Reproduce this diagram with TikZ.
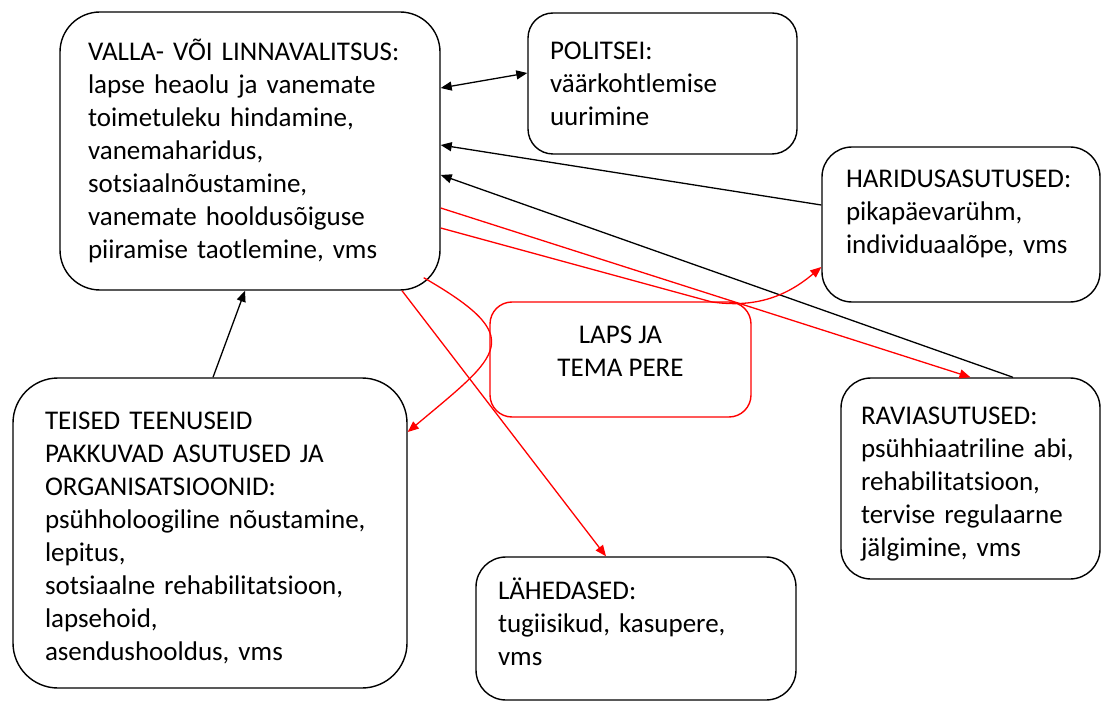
\documentclass[tikz,border=0pt]{standalone}
\usepackage{fontspec}
\setmainfont{Carlito}
\usetikzlibrary{arrows.meta}
\begin{document}
\begin{tikzpicture}[x=1pt,y=1pt]
    \tikzset{org box/.style={draw,line width=1.4pt,rounded corners=30pt,align=left,inner xsep=22pt,font=\fontsize{27}{33}\selectfont},
      link/.style={line width=1.3pt,-{Triangle[length=11pt,width=9pt]}},
      red link/.style={link,red}}

    \useasboundingbox (0,0) rectangle (1105,-703);

    \node [org box, rounded corners=40pt, inner xsep=28pt, text width=324pt, minimum height=278pt] (VLV) at (250,-151) {VALLA- VÕI LINNAVALITSUS:\\lapse heaolu ja vanemate\\toimetuleku hindamine,\\vanemaharidus,\\sotsiaalnõustamine,\\vanemate hooldusõiguse\\piiramise taotlemine, vms};
    \node [org box, rounded corners=25pt, text width=225pt, minimum height=141pt] (POL) at (662.5,-83.5) {POLITSEI:\\väärkohtlemise\\uurimine};
    \node [org box, inner xsep=24pt, text width=230pt, minimum height=155pt, text depth=92pt] (HAR) at (961,-224.5) {HARIDUSASUTUSED:\\pikapäevarühm,\\individuaalõpe, vms};
    \node [org box, draw=red, align=center, rounded corners=22pt, minimum width=261pt, minimum height=115pt, text depth=16pt] (LAPS) at (620.5,-359.5) {LAPS JA\\TEMA PERE};
    \node [org box, inner xsep=20pt, text width=219pt, minimum height=201pt, text height=28pt] (RAVI) at (970.5,-478.5) {RAVIASUTUSED:\\psühhiaatriline abi,\\rehabilitatsioon,\\tervise regulaarne\\jälgimine, vms};
    \node [org box, rounded corners=45pt, inner xsep=32pt, text width=330pt, minimum height=310pt, text height=28pt] (TEISED) at (210,-533) {TEISED TEENUSEID\\PAKKUVAD ASUTUSED JA\\ORGANISATSIOONID:\\psühholoogiline nõustamine,\\lepitus,\\sotsiaalne rehabilitatsioon,\\lapsehoid,\\asendushooldus, vms};
    \node [org box, text width=276pt, minimum height=143pt, text depth=80pt] (LAH) at (636,-628.5) {LÄHEDASED:\\tugiisikud, kasupere,\\vms};

    \draw [link, {Triangle[length=11pt,width=9pt]}-{Triangle[length=11pt,width=9pt]}] ([yshift=63pt]VLV.east) -- ([yshift=10.5pt]POL.west);
    \draw [link] ([yshift=19.5pt]HAR.west) -- ([yshift=6pt]VLV.east);
    \draw [link] ([xshift=42.5pt]RAVI.north) -- ([yshift=-24pt]VLV.east);
    \draw [link] ([xshift=3pt]TEISED.north) -- ([xshift=-5pt]VLV.south);

    \coordinate (bend) at (712,-302);
    \draw [red link] ([yshift=-57pt]VLV.east) -- (RAVI.north);
    \draw [red link] ([yshift=-77pt]VLV.east) -- (bend) to[out=-8,in=220] ([yshift=-42.5pt]HAR.west);
    \draw [red link] ([xshift=-17pt,yshift=13pt]VLV.south east) to[out=-30,in=40,looseness=2] ([yshift=101pt]TEISED.east);
    \draw [red link] ([xshift=152pt]VLV.south) -- ([xshift=-30pt]LAH.north);
  \end{tikzpicture}
\end{document}
